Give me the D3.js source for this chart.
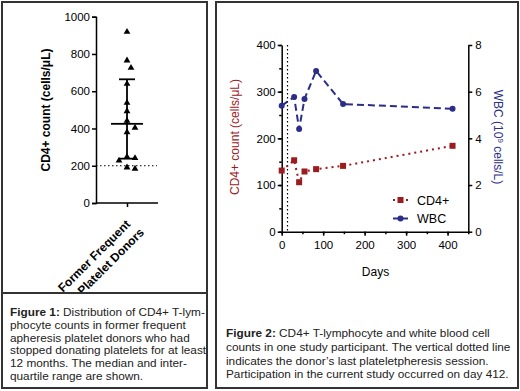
<!DOCTYPE html>
<html>
  <head>
    <meta charset="utf-8">
    <title>CD4+ counts in former platelet donors</title>
    <script src="https://cdn.jsdelivr.net/npm/d3@7"></script>
    <style>
      body { margin: 0; background: #fff; }
      svg { display: block; font-family: "Liberation Sans", Arial, sans-serif; }
      .axis path, .axis line { stroke: #000; stroke-width: 1.5; }
      .axis text { font-size: 11.5px; fill: #000; }
      .caption { font-size: 11.8px; fill: #222; }
    </style>
  </head>

  <body>
    <svg id="chart" width="520" height="391"></svg>

    <script>
      // figure 1: former frequent donors
      const donorCD4 = [916, 762, 723, 637, 535, 490, 438, 401, 377, 245, 238, 225, 188, 181];
      const donorMedian = 425;
      const donorQ1 = 238;
      const donorQ3 = 664;
      const cd4Threshold = 200;
      const donorTicks = [0, 200, 400, 600, 800, 1000];
      const donorGroup = ["Former Frequent", "Platelet Donors"];

      // figure 2: one participant
      const days = [0, 30, 42, 55, 83, 148, 412];
      const cd4 = [131, 153, 106, 129, 134, 141, 184];
      const wbc = [5.4, 5.77, 4.4, 5.69, 6.89, 5.47, 5.27];
      const lastSession = 14;
      const dayTicks = [0, 100, 200, 300, 400];
      const cd4Ticks = [0, 100, 200, 300, 400];
      const wbcTicks = [0, 2, 4, 6, 8];

      const caption1 = [
        "Distribution of CD4+ T-lym-",
        "phocyte counts in former frequent",
        "apheresis platelet donors who had",
        "stopped donating platelets for at least",
        "12 months. The median and inter-",
        "quartile range are shown."
      ];
      const caption2 = [
        "CD4+ T-lymphocyte and white blood cell",
        "counts in one study participant. The vertical dotted line",
        "indicates the donor\u2019s last plateletpheresis session.",
        "Participation in the current study occurred on day 412."
      ];

      const red = "#9b1b1f";
      const navy = "#2b2e88";

      svg = d3.select("#chart");

      // ---------- figure 1 ----------
      y1 = d3.scaleLinear().domain([0, 1000]).range([203, 16.7]);
      x1 = d3.scalePoint().domain(["g"]).range([96, 158]).padding(0.5);
      cx = x1("g");

      svg.append("g")
        .attr("class", "axis")
        .attr("transform", "translate(96,0)")
        .call(d3.axisLeft(y1).tickValues(donorTicks).tickFormat(d3.format("d")).tickSize(4).tickPadding(2));
      svg.append("g")
        .attr("class", "axis")
        .attr("transform", "translate(0,203)")
        .call(d3.axisBottom(x1).tickSize(4).tickFormat(""))
        .select(".domain").attr("d", "M96,0H158");

      svg.append("line")
        .attr("x1", 96).attr("x2", 157)
        .attr("y1", y1(cd4Threshold)).attr("y2", y1(cd4Threshold))
        .attr("stroke", "#000").attr("stroke-width", 1.2)
        .attr("stroke-dasharray", "1.5,2.5");

      // median and interquartile range
      svg.append("line")
        .attr("x1", cx).attr("x2", cx)
        .attr("y1", y1(donorQ1)).attr("y2", y1(donorQ3))
        .attr("stroke", "#000").attr("stroke-width", 1.8);
      [donorQ1, donorQ3].forEach(function(v) {
        svg.append("line")
          .attr("x1", cx - 8).attr("x2", cx + 8)
          .attr("y1", y1(v)).attr("y2", y1(v))
          .attr("stroke", "#000").attr("stroke-width", 1.8);
      });
      svg.append("line")
        .attr("x1", cx - 16).attr("x2", cx + 16)
        .attr("y1", y1(donorMedian)).attr("y2", y1(donorMedian))
        .attr("stroke", "#000").attr("stroke-width", 1.8);

      // simple beeswarm so triangles don't overlap
      placed = [];
      donorCD4.slice().sort(function(a, b) { return b - a; }).forEach(function(v) {
        let py = y1(v);
        let offsets = [0, 4, -4, 8, -8, 12, -12];
        for (let o of offsets) {
          let ok = placed.every(function(p) {
            return Math.hypot(p.x - (cx + o), p.y - py) >= 8;
          });
          if (ok) { placed.push({ x: cx + o, y: py }); break; }
        }
      });
      svg.selectAll(".tri")
        .data(placed)
        .enter().append("path")
          .attr("class", "tri")
          .attr("d", d3.symbol(d3.symbolTriangle, 20))
          .attr("transform", function(d) { return "translate(" + d.x + "," + (d.y - 0.5) + ")"; })
          .attr("fill", "#000");

      svg.append("text")
        .attr("transform", "translate(50,110) rotate(-90)")
        .attr("text-anchor", "middle")
        .attr("font-size", "12px").attr("font-weight", "bold")
        .text("CD4+ count (cells/\u03bcL)");

      groupLabel = svg.append("text")
        .attr("transform", "translate(" + (cx + 1) + ",222) rotate(-45)")
        .attr("text-anchor", "end")
        .attr("font-size", "12px").attr("font-weight", "bold");
      groupLabel.selectAll("tspan")
        .data(donorGroup)
        .enter().append("tspan")
          .attr("x", function(d, i) { return i == 0 ? 0 : 4; })
          .attr("dy", function(d, i) { return i == 0 ? "0.35em" : "1.3em"; })
          .text(function(d) { return d; });

      // panel frames (caption box covers the overflowing label)
      svg.append("rect")
        .attr("x", 2).attr("y", 293).attr("width", 205).attr("height", 95)
        .attr("fill", "#fff");
      svg.append("rect")
        .attr("x", 2).attr("y", 2).attr("width", 205).attr("height", 386)
        .attr("fill", "none").attr("stroke", "#333").attr("stroke-width", 2);
      svg.append("line")
        .attr("x1", 2).attr("x2", 207).attr("y1", 293).attr("y2", 293)
        .attr("stroke", "#333").attr("stroke-width", 2);
      svg.append("rect")
        .attr("x", 216).attr("y", 2).attr("width", 302).attr("height", 386)
        .attr("fill", "none").attr("stroke", "#333").attr("stroke-width", 2);

      // caption 1
      cap1 = svg.append("text").attr("class", "caption");
      caption1.forEach(function(line, i) {
        let t = cap1.append("tspan").attr("x", 10).attr("y", 316 + i * 12.8);
        if (i == 0) {
          t.append("tspan").attr("font-weight", "bold").text("Figure 1: ");
        }
        t.append("tspan").text(line);
      });

      // ---------- figure 2 ----------
      x2 = d3.scaleLinear().domain([0, 450]).range([281.7, 468.3]);
      yc = d3.scaleLinear().domain([0, 400]).range([231.7, 45]);
      yw = d3.scaleLinear().domain([0, 8]).range([231.7, 45]);

      // minor ticks
      svg.append("g")
        .attr("class", "axis")
        .attr("transform", "translate(0,231.7)")
        .call(d3.axisBottom(x2).tickValues(d3.range(0, 451, 50)).tickSize(2.5).tickFormat(""))
        .select(".domain").remove();
      svg.append("g")
        .attr("class", "axis")
        .attr("transform", "translate(281.7,0)")
        .call(d3.axisLeft(yc).tickValues(d3.range(0, 401, 50)).tickSize(2.5).tickFormat(""))
        .select(".domain").remove();

      svg.append("g")
        .attr("class", "axis")
        .attr("transform", "translate(0,231.7)")
        .call(d3.axisBottom(x2).tickValues(dayTicks).tickSize(4).tickSizeOuter(0).tickPadding(5));
      svg.append("g")
        .attr("class", "axis")
        .attr("transform", "translate(281.7,0)")
        .call(d3.axisLeft(yc).tickValues(cd4Ticks).tickSize(4).tickSizeOuter(0).tickPadding(2));
      svg.append("g")
        .attr("class", "axis")
        .attr("transform", "translate(468.3,0)")
        .call(d3.axisRight(yw).tickValues(wbcTicks).tickSize(4).tickSizeOuter(0).tickPadding(3));

      svg.append("line")
        .attr("x1", x2(lastSession)).attr("x2", x2(lastSession))
        .attr("y1", 45).attr("y2", 231.7)
        .attr("stroke", "#000").attr("stroke-width", 1.2)
        .attr("stroke-dasharray", "1.5,2.5");

      svg.append("path")
        .datum(days)
        .attr("fill", "none")
        .attr("stroke", red).attr("stroke-width", 2)
        .attr("stroke-dasharray", "2,4")
        .attr("d", d3.line()
          .x(function(d) { return x2(d); })
          .y(function(d, i) { return yc(cd4[i]); }));
      svg.selectAll(".sq")
        .data(days)
        .enter().append("rect")
          .attr("class", "sq")
          .attr("x", function(d) { return x2(d) - 3; })
          .attr("y", function(d, i) { return yc(cd4[i]) - 3; })
          .attr("width", 6).attr("height", 6)
          .attr("fill", red);

      svg.append("path")
        .datum(days)
        .attr("fill", "none")
        .attr("stroke", navy).attr("stroke-width", 2)
        .attr("stroke-dasharray", "7,4")
        .attr("d", d3.line()
          .x(function(d) { return x2(d); })
          .y(function(d, i) { return yw(wbc[i]); }));
      svg.selectAll(".dot")
        .data(days)
        .enter().append("circle")
          .attr("class", "dot")
          .attr("cx", function(d) { return x2(d); })
          .attr("cy", function(d, i) { return yw(wbc[i]); })
          .attr("r", 3)
          .attr("fill", navy);

      // legend
      lg = svg.append("g").attr("transform", "translate(393,0)");
      lg.append("line")
        .attr("x1", 0).attr("x2", 15).attr("y1", 200).attr("y2", 200)
        .attr("stroke", red).attr("stroke-width", 2).attr("stroke-dasharray", "2,4.5");
      lg.append("rect")
        .attr("x", 4.5).attr("y", 197).attr("width", 6).attr("height", 6).attr("fill", red);
      lg.append("text")
        .attr("x", 24).attr("y", 204.5).attr("font-size", "12.5px").text("CD4+");
      lg.append("line")
        .attr("x1", 0).attr("x2", 15).attr("y1", 218.5).attr("y2", 218.5)
        .attr("stroke", navy).attr("stroke-width", 2);
      lg.append("circle")
        .attr("cx", 7.5).attr("cy", 218.5).attr("r", 3).attr("fill", navy);
      lg.append("text")
        .attr("x", 24).attr("y", 223).attr("font-size", "12.5px").text("WBC");

      // axis titles
      svg.append("text")
        .attr("transform", "translate(239,137) rotate(-90)")
        .attr("text-anchor", "middle")
        .attr("font-size", "12px").attr("fill", red)
        .text("CD4+ count (cells/\u03bcL)");
      wbcTitle = svg.append("text")
        .attr("transform", "translate(494,137) rotate(90)")
        .attr("text-anchor", "middle")
        .attr("font-size", "12px").attr("fill", navy);
      wbcTitle.append("tspan").text("WBC (10");
      wbcTitle.append("tspan").attr("font-size", "8px").attr("dy", "-0.5em").text("9");
      wbcTitle.append("tspan").attr("dy", "0.33em").text(" cells/L)");
      svg.append("text")
        .attr("x", 375.5).attr("y", 276)
        .attr("text-anchor", "middle")
        .attr("font-size", "12px")
        .text("Days");

      // caption 2
      cap2 = svg.append("text").attr("class", "caption");
      caption2.forEach(function(line, i) {
        let t = cap2.append("tspan").attr("x", 226).attr("y", 337 + i * 13.8);
        if (i == 0) {
          t.append("tspan").attr("font-weight", "bold").text("Figure 2: ");
        }
        t.append("tspan").text(line);
      });
    </script>
  </body>
</html>
